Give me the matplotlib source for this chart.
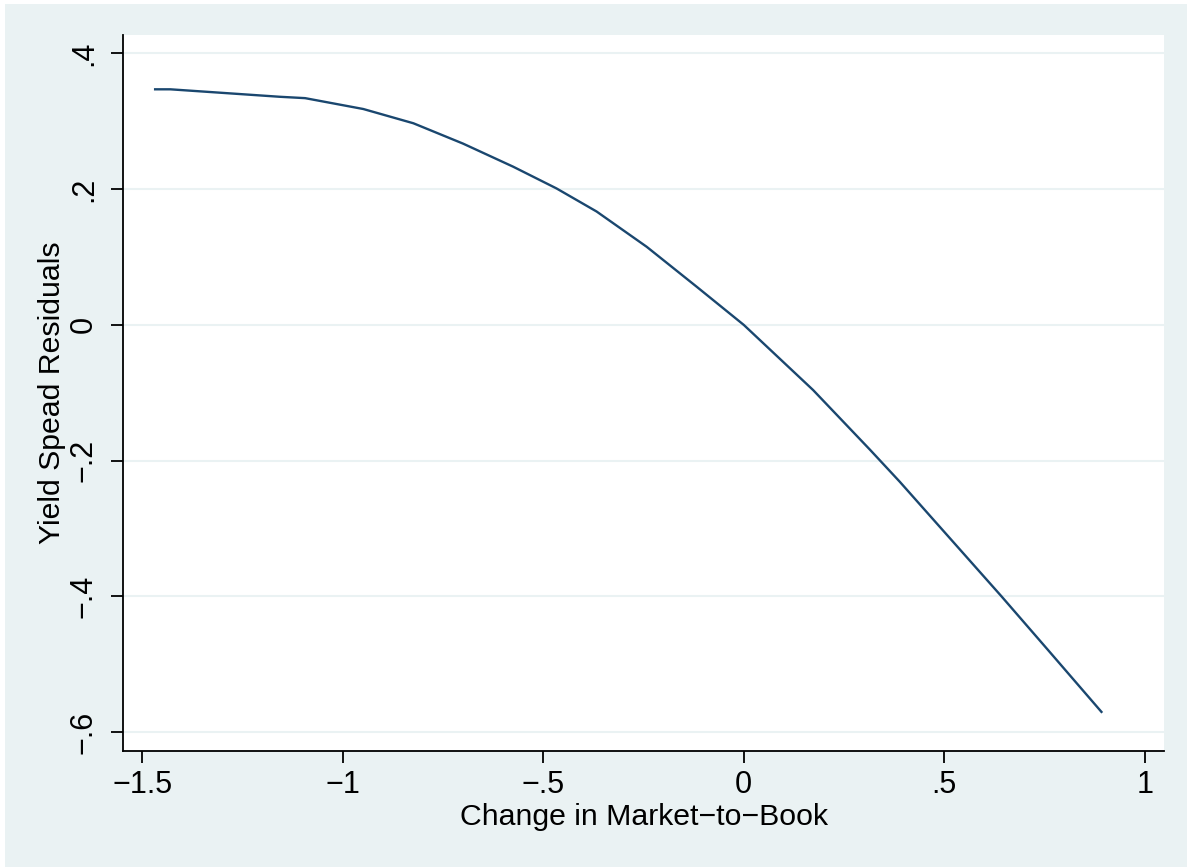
import matplotlib
matplotlib.use("Agg")
import matplotlib.pyplot as plt
from matplotlib.patches import Rectangle

# fitted curve
mtb_change = [-1.468, -1.43, -1.157, -1.094, -0.949, -0.824, -0.700, -0.575,
              -0.467, -0.367, -0.242, -0.117, 0.0, 0.173, 0.315, 0.389,
              0.643, 0.759, 0.892]
resid = [0.347, 0.347, 0.336, 0.334, 0.318, 0.297, 0.267, 0.233,
         0.201, 0.167, 0.115, 0.056, 0.0, -0.096, -0.184, -0.231,
         -0.400, -0.479, -0.570]

x_ticks = [-1.5, -1, -0.5, 0, 0.5, 1]
x_labels = ['\u22121.5', '\u22121', '\u2212.5', '0', '.5', '1']
y_ticks = [-0.6, -0.4, -0.2, 0, 0.2, 0.4]
y_labels = ['\u2212.6', '\u2212.4', '\u2212.2', '0', '.2', '.4']

plt.rcParams['font.family'] = ['Liberation Sans', 'DejaVu Sans']

bg = '#EAF2F3'
navy = '#1A476F'

fig = plt.figure(figsize=(11.87, 8.67), dpi=100, facecolor='white')
# outer graph region (white strip on top and left edges)
fig.patches.append(Rectangle((5 / 1187, 0), 1 - 5 / 1187, 1 - 4 / 867,
                             transform=fig.transFigure, facecolor=bg,
                             edgecolor='none', zorder=-5))

ax = fig.add_axes([123.3 / 1187, 116 / 867, (1164 - 123.3) / 1187, (751 - 35) / 867])
ax.set_facecolor('white')

ax.plot(mtb_change, resid, color=navy, linewidth=1.7, solid_joinstyle='round')

ax.set_xlim(-1.5474, 1.048)
ax.set_ylim(-0.6276, 0.427)

ax.set_xticks(x_ticks)
ax.set_xticklabels(x_labels)
ax.set_yticks(y_ticks)
ax.set_yticklabels(y_labels, rotation=90, va='center')

ax.grid(axis='y', color=bg, linewidth=1.5)
ax.set_axisbelow(True)

for side in ['top', 'right']:
    ax.spines[side].set_visible(False)
for side in ['left', 'bottom']:
    ax.spines[side].set_linewidth(1.3)
    ax.spines[side].set_color('black')

ax.tick_params(axis='both', direction='out', length=8.5, width=1.3,
               labelsize=22, colors='black')
ax.tick_params(axis='x', pad=5)
ax.tick_params(axis='y', pad=9)

ax.set_xlabel('Change in Market\u2212to\u2212Book', fontsize=21.8, labelpad=2)
ax.set_ylabel('Yield Spead Residuals', fontsize=21.8, labelpad=2)

fig.savefig('out.png', dpi=100, facecolor=fig.get_facecolor())
